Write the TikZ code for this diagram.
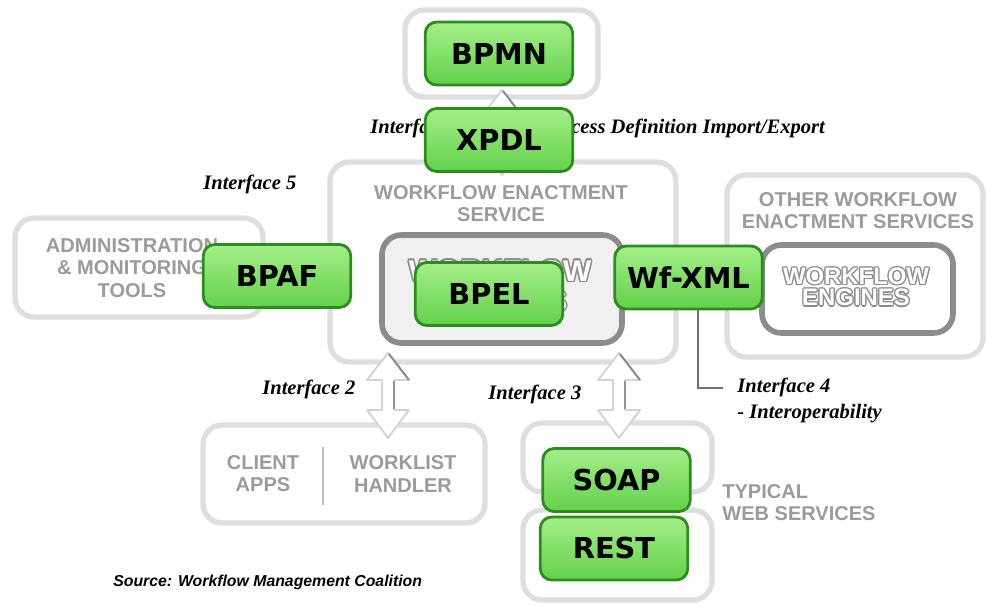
\documentclass[tikz,border=0pt]{standalone}
\usepackage{fontspec}
\setmainfont{Liberation Serif}
\newfontfamily\labelfont{Liberation Sans}
\newfontfamily\tagfont{DejaVu Sans}
\usetikzlibrary{fit}

\definecolor{boxline}{HTML}{DEDEDE}
\definecolor{engline}{HTML}{8C8C8C}
\definecolor{engfill}{HTML}{F0F0F0}
\definecolor{greytxt}{HTML}{9B9B9B}
\definecolor{tagline}{HTML}{2D8C1E}
\definecolor{tagtop}{HTML}{A4EE88}
\definecolor{tagbot}{HTML}{63D14B}
\definecolor{arrline}{HTML}{D4D4D4}
\definecolor{arredge}{HTML}{8A8A8A}
\definecolor{leadline}{HTML}{707070}

% outlined (hollow) lettering: grey copies around a white copy
% #1 straight offset, #2 diagonal offset, #3 text
\newcommand\hollowword[3]{%
  \makebox[0pt]{%
    \color{engline}%
    \makebox[0pt]{\kern#1#3\kern-#1}%
    \makebox[0pt]{\kern-#1#3\kern#1}%
    \makebox[0pt]{\raisebox{#1}{#3}}%
    \makebox[0pt]{\raisebox{-#1}{#3}}%
    \makebox[0pt]{\raisebox{#2}{\kern#2#3\kern-#2}}%
    \makebox[0pt]{\raisebox{#2}{\kern-#2#3\kern#2}}%
    \makebox[0pt]{\raisebox{-#2}{\kern#2#3\kern-#2}}%
    \makebox[0pt]{\raisebox{-#2}{\kern-#2#3\kern#2}}%
    \color{white}\makebox[0pt]{#3}}}

\begin{document}
\begin{tikzpicture}[x=0.02cm,y=-0.02cm,
  softbox/.style={draw=boxline, line width=3pt, rounded corners=11pt, fill=white, inner sep=0pt},
  enginebox/.style={draw=engline, line width=3.2pt, rounded corners=11pt, fill=engfill, inner sep=0pt},
  tagbox/.style={draw=tagline, line width=1.6pt, rounded corners=6.5pt,
    top color=tagtop, bottom color=tagbot, inner sep=0pt, text=black,
    minimum width=2.95cm, minimum height=1.26cm,
    font=\tagfont\bfseries\fontsize{16.4}{18}\selectfont},
  greylabel/.style={font=\labelfont\bfseries\fontsize{11.4}{12.6}\selectfont, text=greytxt, align=center, inner sep=0pt},
  iface/.style={font=\bfseries\itshape\fontsize{11.7}{14.7}\selectfont, anchor=base west, inner sep=0pt, align=left},
  leader/.style={draw=leadline, line width=1.1pt},
  updown/.pic={
    \path[fill=white, draw=arrline, line width=1.1pt, line join=round]
      (0,0) -- (21,27) -- (6,27) -- (6,57) -- (21,57) -- (0,85)
      -- (-21,57) -- (-6,57) -- (-6,27) -- (-21,27) -- cycle;
    \draw[arredge, line width=1.1pt] (1,1) -- (21,27);
    \draw[arrline!70!black, line width=0.8pt] (6,28) -- (6,56);
  }]
\useasboundingbox (0,0) rectangle (986,605);

% grey frames
\node[softbox, fit={(405,10) (598,97)}] (bpmnframe) {};
\node[softbox, fit={(330,162) (676,362)}] (wes) {};
\node[softbox, fit={(15,218) (263,317)}] (admin) {};
\node[softbox, fit={(727,175) (983,357)}] (other) {};
\node[softbox, fit={(203,425) (485,523)}] (client) {};
\node[softbox, fit={(523,423) (712,492)}] (soapframe) {};
\node[softbox, fit={(523,510) (712,600)}] (restframe) {};

% frame captions
\node[greylabel] (westext) at (501,204) {WORKFLOW ENACTMENT\\SERVICE};
\node[greylabel, font=\labelfont\bfseries\fontsize{11.4}{13}\selectfont] (admintext) at (132,268) {ADMINISTRATION\\\& MONITORING\\TOOLS};
\node[greylabel] (othertext) at (858,211) {OTHER WORKFLOW\\ENACTMENT SERVICES};
\node[greylabel] (clientapps) at (263,474) {CLIENT\\APPS};
\node[greylabel] (worklist) at (403,474) {WORKLIST\\HANDLER};
\draw[boxline!85!black, line width=1pt] (323,447) -- (323,505);
\node[greylabel, align=left, anchor=west] (typical) at (722,503) {TYPICAL\\WEB SERVICES};

% engine boxes
\node[enginebox, fit={(382,235) (622,343)}] (engines) {};
\node[enginebox, fill=white, fit={(762,245) (953,333)}] (otherengines) {};
\node[font=\labelfont\bfseries\fontsize{17}{17.4}\selectfont, align=center, inner sep=0pt] (enginetext) at (500,286)
  {\hollowword{0.9pt}{0.65pt}{WORKFLOW}\\\hollowword{0.9pt}{0.65pt}{ENGINES}};
\node[font=\labelfont\bfseries\fontsize{13.6}{12.2}\selectfont, align=center, inner sep=0pt] (otherenginetext) at (856,287)
  {\hollowword{0.75pt}{0.55pt}{WORKFLOW}\\\hollowword{0.75pt}{0.55pt}{ENGINES}};

% interface 1 caption (partly behind XPDL)
\node[iface] (if1) at (370,133) {Interface 1\hspace{20pt}-\hspace{20pt}Process Definition Import/Export};

% double arrows between components
\pic at (502,90) {updown};
\pic at (388,353) {updown};
\pic at (619,353) {updown};

% green standard tags
\node[tagbox] (bpmn) at (499,53.5) {BPMN};
\node[tagbox] (xpdl) at (499,140) {XPDL};
\node[tagbox] (bpaf) at (277,276) {BPAF};
\node[tagbox] (bpel) at (489,294) {BPEL};
\node[tagbox] (wfxml) at (688.5,277.5) {Wf-XML};
\node[tagbox] (soap) at (616.5,480) {SOAP};
\node[tagbox] (rest) at (614,548.5) {REST};

% interface labels
\node[iface] (if5) at (203,189) {Interface 5};
\node[iface] (if2) at (262,394) {Interface 2};
\node[iface] (if3) at (488,399) {Interface 3};
\coordinate (if4end) at (723,388);
\draw[leader] (wfxml.south) ++(9.5,0) |- (if4end);
\node[iface] (if4) at (737,418) {Interface 4\\- Interoperability};

\node[font=\labelfont\bfseries\itshape\fontsize{9}{10}\selectfont, anchor=base west, inner sep=0pt] (source) at (113,586)
  {Source: Workflow Management Coalition};
\end{tikzpicture}
\end{document}
